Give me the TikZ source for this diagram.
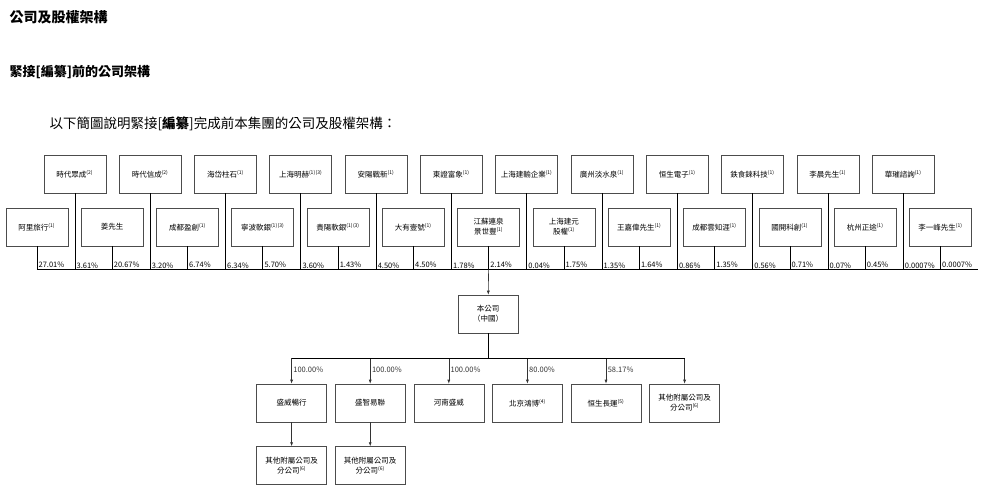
\documentclass[tikz,border=0pt]{standalone}
\usepackage{fontspec}
\setmainfont{Noto Sans CJK TC}
\usetikzlibrary{positioning,arrows.meta}
\tikzstyle{box} = [draw=black!70,minimum width=62pt,minimum height=38pt,inner sep=1pt,align=center,font=\fontsize{7.5}{10}\selectfont]
\tikzstyle{pct} = [anchor=south west,inner sep=1.5pt,font=\fontsize{7.5}{8}\selectfont]
\tikzstyle{arrow} = [-{Latex[length=4pt,width=3pt]},black!80]
\newcommand{\nt}[1]{\textsuperscript{\tiny(#1)}}
\begin{document}
\begin{tikzpicture}[x=1pt,y=-1pt,line width=.6pt]
  \useasboundingbox (0,0) rectangle (984,499);
  \node[anchor=west,font=\fontsize{14}{16}\selectfont\bfseries] (t1) at (6,17) {公司及股權架構};
  \node[anchor=west,font=\fontsize{13}{15}\selectfont\bfseries] (t2) at (6,72) {緊接[編纂]前的公司架構};
  \node[anchor=west,font=\fontsize{13.5}{15}\selectfont] (t3) at (46,124) {以下簡圖說明緊接[\textbf{編纂}]完成前本集團的公司及股權架構：};
  % top row of holders
  \foreach \n/\t [count=\i] in {a/時代眾成\nt{2},b/時代信成\nt{2},c/海岱柱石\nt{1},d/上海明赫\nt{1}\nt{3},e/安陽戰新\nt{1},f/東證富象\nt{1},g/上海建輸企業\nt{1},h/廣州淡水泉\nt{1},i/恒生電子\nt{1},j/鉄食錸科技\nt{1},k/李晨先生\nt{1},l/華璀諮詢\nt{1}}
    \node[box] (top\n) at ({75.3*\i-0.5},174) {\t};
  % bottom row of holders
  \foreach \n/\t [count=\i] in {a/阿里旅行\nt{1},b/姜先生,c/成都盈創\nt{1},d/寧波軟銀\nt{1}\nt{3},e/貴陽軟銀\nt{1}\nt{3},f/大有壹號\nt{1},g/江蘇連泉\\景世豐\nt{1},h/上海建元\\股權\nt{1},i/王嘉偉先生\nt{1},j/成都雲知涯\nt{1},k/國開科創\nt{1},l/杭州正途\nt{1},m/李一峰先生\nt{1}}
    \node[box] (bot\n) at ({75.3*\i-38.5},227) {\t};
  \foreach \n/\p/\q in {a/27.01/3.61,b/20.67/3.20,c/6.74/6.34,d/5.70/3.60,e/1.43/4.50,f/4.50/1.78,g/2.14/0.04,h/1.75/1.35,i/1.64/0.86,j/1.35/0.56,k/0.71/0.07,l/0.45/0.0007}{
    \draw (bot\n.south) -- ++(0,23) coordinate (pb\n) node[pct]{\p\%};
    \draw (top\n.south) -- ++(0,77) coordinate (pt\n) node[pct]{\q\%};
  }
  \draw (botm.south) -- ++(0,23) coordinate (pbm) node[pct]{0.0007\%};
  \draw (pba) -- (pbm) -- ++(38,0);
  % the company
  \node[box,minimum width=60pt] (co) at (488,314) {本公司\\（中國）};
  \draw[arrow] (pbg) -- (co);
  \coordinate[below=25pt of co] (bus);
  \draw (co) -- (bus);
  \foreach \n/\t/\p [count=\i] in {s1/盛威暢行/100.00\%,s2/盛智易聯/100.00\%,s3/河南盛威/100.00\%,s4/北京鴻博\nt{4}/80.00\%,s5/恒生長運\nt{5}/58.17\%,s6/其他附屬公司及\\分公司\nt{6}/}{
    \node[box,minimum width=70pt] (\n) at ({78.6*\i+213},403) {\t};
    \draw[arrow] (\n.north|-bus) coordinate (b\n) -- node[pct,anchor=west,pos=.45]{\p} (\n);
  }
  \draw (bs1) -- (bs6);
  \foreach \n in {s1,s2}{
    \node[box,minimum width=70pt,below=24pt of \n] (o\n) {其他附屬公司及\\分公司\nt{6}};
    \draw[arrow] (\n) -- (o\n);
  }
\end{tikzpicture}
\end{document}
